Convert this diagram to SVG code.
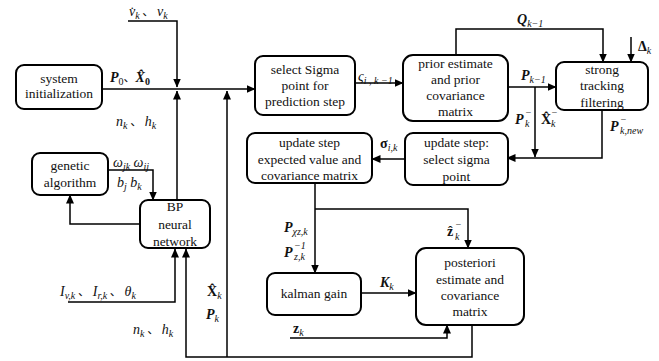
<svg xmlns="http://www.w3.org/2000/svg" width="659" height="361" viewBox="0 0 659 361">
<defs>
<style>
.box{fill:#fff;stroke:#000;stroke-width:2}
.t{font-family:'Liberation Serif','Times New Roman','DejaVu Serif',serif;font-size:13.5px;text-anchor:middle;fill:#111}
.m{font-family:'Liberation Serif','Times New Roman','DejaVu Serif',serif;font-size:14px;font-style:italic;fill:#111}
.j{font-family:'Noto Sans CJK SC',sans-serif;font-style:normal;font-size:12px}
.b{font-weight:bold}
.s{font-size:10px}
.c{fill:none;stroke:#000;stroke-width:1.5}
</style>
<marker id="a" markerWidth="9" markerHeight="8" refX="8.5" refY="4" orient="auto" markerUnits="userSpaceOnUse"><path d="M0,0 L9,4 L0,8 Z" fill="#000"/></marker>
</defs>
<rect width="659" height="361" fill="#fff"/>
<g id="connectors">
<path class="c" d="M102,89 H255" marker-end="url(#a)"/>
<path class="c" d="M128,21 H177 V87" marker-end="url(#a)"/>
<path class="c" d="M177,200 V91" marker-end="url(#a)"/>
<path class="c" d="M227,357 V91" marker-end="url(#a)"/>
<path class="c" d="M472,325 V357 H186 V249" marker-end="url(#a)"/>
<path class="c" d="M68,302 H175 V249" marker-end="url(#a)"/>
<path class="c" d="M108,170 H153 V200" marker-end="url(#a)"/>
<path class="c" d="M140,224 H70 V195" marker-end="url(#a)"/>
<path class="c" d="M355,83 H403" marker-end="url(#a)"/>
<path class="c" d="M456,55 V29 H603 V62" marker-end="url(#a)"/>
<path class="c" d="M631,37 V62" marker-end="url(#a)"/>
<path class="c" d="M508,87 H556" marker-end="url(#a)"/>
<path class="c" d="M535,87 V157" marker-end="url(#a)"/>
<path class="c" d="M602,110 V158 H507" marker-end="url(#a)"/>
<path class="c" d="M405,159 H372" marker-end="url(#a)"/>
<path class="c" d="M315,183 V273" marker-end="url(#a)"/>
<path class="c" d="M315,209 H468 V248" marker-end="url(#a)"/>
<path class="c" d="M361,293 H416" marker-end="url(#a)"/>
<path class="c" d="M290,338 H447 V325" marker-end="url(#a)"/>
</g>
<g id="sysinit"><rect class="box" x="16" y="65" width="86" height="44" rx="8"/>
<text class="t" x="59" y="83">system</text><text class="t" x="59" y="98">initialization</text></g>
<g id="selectSigma"><rect class="box" x="255" y="56" width="100" height="59" rx="8"/>
<text class="t" x="305" y="74">select Sigma</text><text class="t" x="305" y="90">point for</text><text class="t" x="305" y="106">prediction step</text></g>
<g id="prior"><rect class="box" x="403" y="55" width="105" height="66" rx="10"/>
<text class="t" x="455.5" y="68">prior estimate</text><text class="t" x="455.5" y="84">and prior</text><text class="t" x="455.5" y="100">covariance</text><text class="t" x="455.5" y="116">matrix</text></g>
<g id="strong"><rect class="box" x="556" y="62" width="92" height="48" rx="8"/>
<text class="t" x="602" y="74">strong</text><text class="t" x="602" y="90">tracking</text><text class="t" x="602" y="107">filtering</text></g>
<g id="updateSelect"><rect class="box" x="405" y="133" width="103" height="52" rx="8"/>
<text class="t" x="456.5" y="147">update step:</text><text class="t" x="456.5" y="164">select sigma</text><text class="t" x="456.5" y="181">point</text></g>
<g id="updateExpected"><rect class="box" x="247" y="133" width="125" height="50" rx="8"/>
<text class="t" x="309.5" y="147">update step</text><text class="t" x="309.5" y="164">expected value and</text><text class="t" x="309.5" y="180">covariance matrix</text></g>
<g id="ga"><rect class="box" x="32" y="153" width="76" height="42" rx="8"/>
<text class="t" x="70" y="170">genetic</text><text class="t" x="70" y="187">algorithm</text></g>
<g id="bp"><rect class="box" x="140" y="200" width="70" height="48" rx="8"/>
<text class="t" x="175" y="211">BP</text><text class="t" x="175" y="229">neural</text><text class="t" x="175" y="246">network</text></g>
<g id="kalman"><rect class="box" x="267" y="273" width="94" height="42" rx="8"/>
<text class="t" x="314" y="298">kalman gain</text></g>
<g id="posteriori"><rect class="box" x="416" y="248" width="108" height="77" rx="10"/>
<text class="t" x="470" y="267">posteriori</text><text class="t" x="470" y="284">estimate and</text><text class="t" x="470" y="300">covariance</text><text class="t" x="470" y="316">matrix</text></g>
<g id="labels">
<text class="m" x="129" y="16">v̇<tspan class="s" dy="3">k</tspan><tspan class="j" dy="-3"> 、  </tspan>v<tspan class="s" dy="3">k</tspan></text>
<text class="m" x="110" y="82"><tspan class="b">P</tspan><tspan class="s" dy="3" font-style="normal">0</tspan><tspan class="j" dy="-3">、</tspan><tspan class="b">X̂</tspan><tspan class="s b" dy="3" font-style="normal">0</tspan></text>
<text class="m" x="116" y="126">n<tspan class="s" dy="3">k</tspan><tspan class="j" dy="-3"> 、  </tspan>h<tspan class="s" dy="3">k</tspan></text>
<text class="m" x="358" y="81">ς<tspan class="s" dy="3">i , k −1</tspan></text>
<text class="m" x="517" y="24"><tspan class="b">Q</tspan><tspan class="s" dy="3">k−1</tspan></text>
<text class="m" x="638" y="51"><tspan class="b" font-style="normal">Δ</tspan><tspan class="s" dy="3">k</tspan></text>
<text class="m" x="521" y="80"><tspan class="b">P</tspan><tspan class="s" dy="3">k−1</tspan></text>
<text class="m" x="515" y="124"><tspan class="b">P</tspan></text><text class="m s" x="525" y="127">k</text><text class="m s" x="525" y="116">−</text>
<text class="m" x="541" y="124"><tspan class="b" font-style="normal">X̂</tspan></text><text class="m s" x="551" y="127">k</text><text class="m s" x="551" y="116">−</text>
<text class="m" x="610" y="131"><tspan class="b">P</tspan></text><text class="m s" x="620" y="134">k,new</text><text class="m s" x="620" y="123">−</text>
<text class="m" x="380" y="148"><tspan class="b" font-style="normal">σ</tspan><tspan class="s" dy="3">i,k</tspan></text>
<text class="m" x="113" y="167">ω<tspan class="s" dy="3">jk</tspan><tspan dy="-3"> ω</tspan><tspan class="s" dy="3">ij</tspan></text>
<text class="m" x="117" y="187">b<tspan class="s" dy="3">j</tspan><tspan dy="-3">   b</tspan><tspan class="s" dy="3">k</tspan></text>
<text class="m" x="284" y="232"><tspan class="b">P</tspan><tspan class="s" dy="3">χz,k</tspan></text>
<text class="m" x="284" y="257"><tspan class="b">P</tspan></text><text class="m s" x="294" y="260">z,k</text><text class="m s" x="294" y="249">−1</text>
<text class="m" x="447" y="236"><tspan class="b" font-style="normal">ẑ</tspan></text><text class="m s" x="455" y="240">k</text><text class="m s" x="455" y="228">−</text>
<text class="m" x="380" y="287"><tspan class="b">K</tspan><tspan class="s" dy="3">k</tspan></text>
<text class="m" x="293" y="333"><tspan class="b" font-style="normal">z</tspan><tspan class="s" dy="3">k</tspan></text>
<text class="m" x="60" y="296">I<tspan class="s" dy="3">v,k</tspan><tspan class="j" dy="-3"> 、  </tspan>I<tspan class="s" dy="3">r,k</tspan><tspan class="j" dy="-3"> 、  </tspan>θ<tspan class="s" dy="3">k</tspan></text>
<text class="m" x="207" y="296"><tspan class="b" font-style="normal">X̂</tspan><tspan class="s" dy="3">k</tspan></text>
<text class="m" x="206" y="319"><tspan class="b">P</tspan><tspan class="s" dy="3">k</tspan></text>
<text class="m" x="133" y="334">n<tspan class="s" dy="3">k</tspan><tspan class="j" dy="-3"> 、  </tspan>h<tspan class="s" dy="3">k</tspan></text>
</g>
</svg>
